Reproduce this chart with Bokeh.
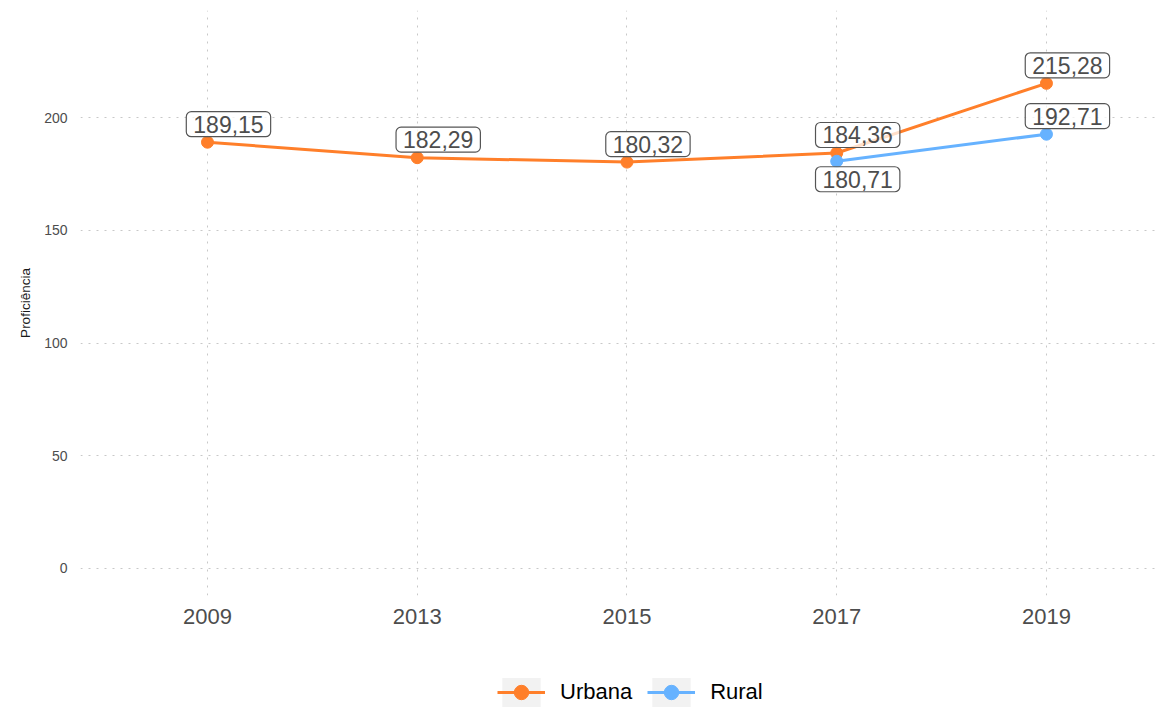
from bokeh.plotting import figure
from bokeh.layouts import column
from bokeh.models import (Range1d, FixedTicker, Label, Legend, LegendItem)
from bokeh.embed import file_html
from bokeh.resources import INLINE

years = ["2009", "2013", "2015", "2017", "2019"]
urbana = [189.15, 182.29, 180.32, 184.36, 215.28]
rural_years = ["2017", "2019"]
rural = [180.71, 192.71]
y_ticks = [0, 50, 100, 150, 200]
series_names = ["Urbana", "Rural"]

ORANGE = "#FF7F2A"
BLUE = "#66B2FF"
FONT = "Liberation Sans"

ux = [years.index(y) for y in years]
rx = [years.index(y) for y in rural_years]

p = figure(width=1159, height=640, output_backend="svg", toolbar_location=None,
           x_range=Range1d(-0.6055, 4.539), y_range=Range1d(-12, 247.6),
           min_border_left=80, min_border_right=0, min_border_top=10,
           min_border_bottom=45)
p.outline_line_color = None
p.background_fill_color = "white"

for g in (p.xgrid, p.ygrid):
    g.grid_line_color = "#c8c8c8"
    g.grid_line_dash = "2 6"
    g.grid_line_width = 1
p.xgrid.ticker = FixedTicker(ticks=ux)
p.ygrid.ticker = FixedTicker(ticks=y_ticks)

xa = p.xaxis[0]
xa.ticker = FixedTicker(ticks=ux)
xa.major_label_overrides = {i: y for i, y in zip(ux, years)}
xa.axis_line_color = None
xa.major_tick_line_color = None
xa.minor_tick_line_color = None
xa.major_tick_out = 0
xa.major_label_text_font = FONT
xa.major_label_text_font_size = "22px"
xa.major_label_text_color = "#4d4d4d"
xa.major_label_standoff = 13

ya = p.yaxis[0]
ya.ticker = FixedTicker(ticks=y_ticks)
ya.axis_line_color = None
ya.major_tick_line_color = None
ya.minor_tick_line_color = None
ya.major_tick_out = 0
ya.major_label_text_font = FONT
ya.major_label_text_font_size = "14px"
ya.major_label_text_color = "#4d4d4d"
ya.major_label_standoff = 13
ya.axis_label = "Proficiência"
ya.axis_label_text_font = FONT
ya.axis_label_text_font_style = "normal"
ya.axis_label_text_font_size = "13.5px"
ya.axis_label_text_color = "#1a1a1a"
ya.axis_label_standoff = 8

p.line(ux, urbana, line_color=ORANGE, line_width=3)
p.scatter(ux, urbana, size=12, fill_color=ORANGE, line_color=ORANGE)
p.line(rx, rural, line_color=BLUE, line_width=3)
p.scatter(rx, rural, size=12, fill_color=BLUE, line_color=BLUE)


def add_label(x, y, side):
    p.add_layout(Label(
        x=x + 0.1, y=y + side * 8,
        text=f"{y:.2f}".replace(".", ","),
        text_align="center", text_baseline="middle",
        text_font=FONT, text_font_size="23px", text_color="#4d4d4d",
        background_fill_color="white", background_fill_alpha=0.75,
        border_line_color="#555555", border_line_width=1.2,
        padding=dict(left=7, right=7, top=4, bottom=4), border_radius=5))


for x, y in zip(ux, urbana):
    add_label(x, y, 1)
rural_side = [-1, 1]
for x, y, s in zip(rx, rural, rural_side):
    add_label(x, y, s)

# legend strip below the chart (its dummy glyphs sit outside the visible range)
lf = figure(width=1159, height=70, output_backend="svg", toolbar_location=None,
            x_range=Range1d(0, 1), y_range=Range1d(0, 1),
            min_border=0, x_axis_type=None, y_axis_type=None)
lf.outline_line_color = None
lf.xgrid.visible = False
lf.ygrid.visible = False
items = []
for name, col in zip(series_names, [ORANGE, BLUE]):
    bg = lf.rect(x=[-5], y=[-5], width=1, height=1, fill_color="#f2f2f2",
                 line_color=None)
    ln = lf.line(x=[-5, -4], y=[-5, -5], line_color=col, line_width=3)
    sc = lf.scatter(x=[-5], y=[-5], size=12, fill_color=col, line_color=col)
    items.append(LegendItem(label=name, renderers=[bg, ln, sc]))

legend = Legend(items=items, orientation="horizontal", location=(417, 0),
                glyph_width=48, glyph_height=36, label_standoff=15, spacing=15,
                label_text_font=FONT, label_text_font_size="22px",
                label_text_color="black", label_height=36,
                border_line_color=None, background_fill_alpha=0,
                padding=0, margin=0)
lf.add_layout(legend, "center")

open("out.html", "w").write(file_html(column(p, lf, spacing=0), INLINE))
